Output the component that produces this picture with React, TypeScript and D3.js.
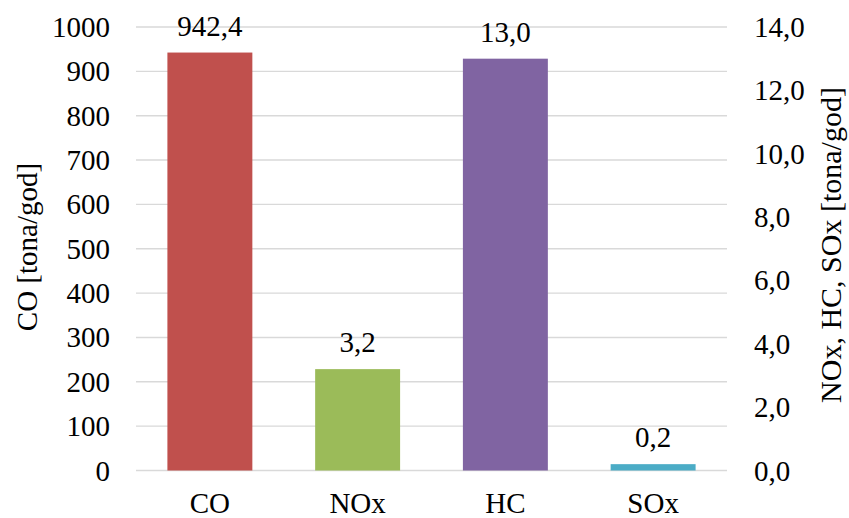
import React from "react";
import * as d3 from "d3";

const categories = ["CO", "NOx", "HC", "SOx"];
const values = [942.4, 3.2, 13.0, 0.2];
const axisOf = ["left", "right", "right", "right"];
const colors = ["#C0504D", "#9BBB59", "#8064A2", "#4BACC6"];
const leftTicks = [0, 100, 200, 300, 400, 500, 600, 700, 800, 900, 1000];
const rightTicks = [0, 2, 4, 6, 8, 10, 12, 14];
const leftTitle = "CO [tona/god]";
const rightTitle = "NOx, HC, SOx [tona/god]";

const W = 849;
const H = 518;
const plot = { left: 136, right: 727, top: 27, bottom: 470.5 };
const FONT = "'Liberation Serif', 'Times New Roman', serif";
const FS = 29;

const fmt = (v: number) => v.toFixed(1).replace(".", ",");

export default function App() {
  const x = d3
    .scaleBand<string>()
    .domain(categories)
    .range([plot.left, plot.right])
    .paddingInner(0.425)
    .paddingOuter(0.2125);
  const yL = d3.scaleLinear().domain([0, 1000]).range([plot.bottom, plot.top]);
  const yR = d3.scaleLinear().domain([0, 14]).range([plot.bottom, plot.top]);

  return (
    <svg
      width={W}
      height={H}
      style={{ position: "absolute", left: 0, top: 0, background: "#fff" }}
      fontFamily={FONT}
    >
      <rect x={0} y={0} width={W} height={H} fill="#fff" />
      {leftTicks.map((t) => (
        <line
          key={"g" + t}
          x1={plot.left}
          x2={plot.right}
          y1={yL(t)}
          y2={yL(t)}
          stroke="#d9d9d9"
          strokeWidth={1.4}
        />
      ))}
      {categories.map((c, i) => {
        const y = axisOf[i] === "left" ? yL : yR;
        const top = y(values[i]);
        const bx = x(c) as number;
        return (
          <g key={c}>
            <rect
              x={bx}
              y={top}
              width={x.bandwidth()}
              height={plot.bottom - top}
              fill={colors[i]}
            />
            <text
              x={bx + x.bandwidth() / 2}
              y={top - 17}
              textAnchor="middle"
              fontSize={FS}
              fill="#000"
            >
              {fmt(values[i])}
            </text>
            <text
              x={bx + x.bandwidth() / 2}
              y={513}
              textAnchor="middle"
              fontSize={FS}
              fill="#000"
            >
              {c}
            </text>
          </g>
        );
      })}
      {leftTicks.map((t) => (
        <text
          key={"l" + t}
          x={110}
          y={yL(t) + 10}
          textAnchor="end"
          fontSize={FS}
          fill="#000"
        >
          {t}
        </text>
      ))}
      {rightTicks.map((t) => (
        <text
          key={"r" + t}
          x={754}
          y={yR(t) + 10}
          textAnchor="start"
          fontSize={FS}
          fill="#000"
        >
          {fmt(t)}
        </text>
      ))}
      <text
        transform={`translate(37, 247) rotate(-90)`}
        textAnchor="middle"
        fontSize={FS}
        fill="#000"
      >
        {leftTitle}
      </text>
      <text
        transform={`translate(841, 245) rotate(-90)`}
        textAnchor="middle"
        fontSize={30}
        fill="#000"
      >
        {rightTitle}
      </text>
    </svg>
  );
}
